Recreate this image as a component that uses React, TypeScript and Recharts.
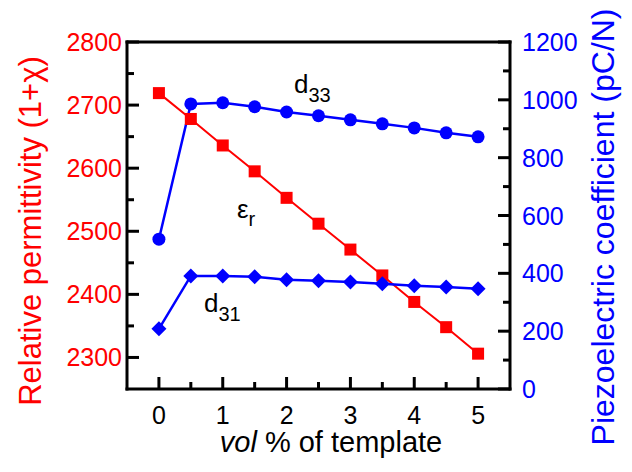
import React from 'react';
import { ComposedChart, Line, XAxis, YAxis, ReferenceLine, Customized } from 'recharts';

const volPercent = [0, 0.5, 1, 1.5, 2, 2.5, 3, 3.5, 4, 4.5, 5];
const permittivity = [2719, 2678, 2636, 2595, 2553, 2512, 2471, 2430, 2388, 2348, 2306];
const d33Values = [518, 986, 990, 976, 958, 945, 931, 917, 903, 886, 872];
const d31Values = [208, 391, 391, 388, 378, 374, 370, 364, 357, 353, 347];

const xTicks = [0, 0.5, 1, 1.5, 2, 2.5, 3, 3.5, 4, 4.5, 5];
const leftTicks = [2300, 2350, 2400, 2450, 2500, 2550, 2600, 2650, 2700, 2750, 2800];
const rightTicks = [0, 100, 200, 300, 400, 500, 600, 700, 800, 900, 1000, 1100, 1200];

const RED = '#ff0000';
const BLUE = '#0000ff';
const FONT = '"Liberation Sans", Arial, sans-serif';

const data = volPercent.map((v, i) => ({
  vol: v,
  er: permittivity[i],
  d33: d33Values[i],
  d31: d31Values[i],
}));

const Square = (props: any) => {
  const { cx, cy } = props;
  if (cx == null || cy == null) return null;
  return <rect x={cx - 6} y={cy - 6} width={12} height={12} fill={RED} />;
};

const Circle = (props: any) => {
  const { cx, cy } = props;
  if (cx == null || cy == null) return null;
  return <circle cx={cx} cy={cy} r={6.5} fill={BLUE} />;
};

const Diamond = (props: any) => {
  const { cx, cy } = props;
  if (cx == null || cy == null) return null;
  return <polygon points={`${cx},${cy - 7.5} ${cx + 7.5},${cy} ${cx},${cy + 7.5} ${cx - 7.5},${cy}`} fill={BLUE} />;
};

const LeftTick = (props: any) => {
  const { x, y, payload } = props;
  const major = payload.value % 100 === 0;
  return (
    <g>
      <line x1={x} x2={x + (major ? 12 : 7)} y1={y} y2={y} stroke="#000" strokeWidth={3} />
      {major && (
        <text x={x - 5} y={y + 9} textAnchor="end" fill={RED} fontSize={25} fontFamily={FONT}>
          {payload.value}
        </text>
      )}
    </g>
  );
};

const RightTick = (props: any) => {
  const { x, y, payload } = props;
  const major = payload.value % 200 === 0;
  return (
    <g>
      <line x1={x} x2={x - (major ? 12 : 7)} y1={y} y2={y} stroke="#000" strokeWidth={3} />
      {major && (
        <text x={x + 12} y={y + 9} textAnchor="start" fill={BLUE} fontSize={25} fontFamily={FONT}>
          {payload.value}
        </text>
      )}
    </g>
  );
};

const BottomTick = (props: any) => {
  const { x, y, payload } = props;
  const major = Number.isInteger(payload.value);
  return (
    <g>
      <line x1={x} x2={x} y1={y} y2={y - (major ? 12 : 7)} stroke="#000" strokeWidth={3} />
      {major && (
        <text x={x} y={y + 35} textAnchor="middle" fill="#000" fontSize={25} fontFamily={FONT}>
          {payload.value}
        </text>
      )}
    </g>
  );
};

const Annotations = () => (
  <g fontFamily={FONT}>
    <text x={294} y={93} fontSize={26} fill="#000">
      d<tspan fontSize={20} dy={9}>33</tspan>
    </text>
    <text x={237} y={218} fontSize={26} fill="#000">
      ε<tspan fontSize={20} dy={8}>r</tspan>
    </text>
    <text x={204} y={312} fontSize={26} fill="#000">
      d<tspan fontSize={20} dy={9}>31</tspan>
    </text>
    <text
      transform="translate(41, 231) rotate(-90)"
      textAnchor="middle"
      fontSize={31}
      fill={RED}
    >
      Relative permittivity (1+χ)
    </text>
    <text
      transform="translate(614, 227) rotate(-90)"
      textAnchor="middle"
      fontSize={32}
      fill={BLUE}
    >
      Piezoelectric coefficient (pC/N)
    </text>
    <text x={331} y={452} textAnchor="middle" fontSize={29} fill="#000">
      <tspan fontStyle="italic">vol</tspan> % of template
    </text>
  </g>
);

export default function App() {
  const axisLine = { stroke: '#000', strokeWidth: 3, strokeLinecap: 'square' as const };
  return (
    <div style={{ position: 'absolute', left: 0, top: 0, width: 632, height: 472, background: '#fff' }}>
      <ComposedChart width={632} height={472} data={data} margin={{ top: 42, right: 0, bottom: 0, left: 0 }}>
        <XAxis
          dataKey="vol"
          type="number"
          domain={[-0.5, 5.5]}
          ticks={xTicks}
          height={83}
          axisLine={axisLine}
          tickLine={false}
          tickSize={0}
          tickMargin={0}
          tick={<BottomTick />}
          interval={0}
        />
        <YAxis
          yAxisId="left"
          orientation="left"
          domain={[2250, 2800]}
          ticks={leftTicks}
          width={127}
          axisLine={axisLine}
          tickLine={false}
          tickSize={0}
          tickMargin={0}
          tick={<LeftTick />}
          interval={0}
        />
        <YAxis
          yAxisId="right"
          orientation="right"
          domain={[0, 1200]}
          ticks={rightTicks}
          width={122}
          axisLine={axisLine}
          tickLine={false}
          tickSize={0}
          tickMargin={0}
          tick={<RightTick />}
          interval={0}
        />
        <ReferenceLine yAxisId="left" y={2800} stroke="#000" strokeWidth={3} strokeLinecap="square" />
        <Line
          yAxisId="left"
          dataKey="er"
          stroke={RED}
          strokeWidth={2}
          dot={<Square />}
          activeDot={false}
          isAnimationActive={false}
        />
        <Line
          yAxisId="right"
          dataKey="d33"
          stroke={BLUE}
          strokeWidth={2.5}
          dot={<Circle />}
          activeDot={false}
          isAnimationActive={false}
        />
        <Line
          yAxisId="right"
          dataKey="d31"
          stroke={BLUE}
          strokeWidth={2.5}
          dot={<Diamond />}
          activeDot={false}
          isAnimationActive={false}
        />
        <Customized component={<Annotations />} />
      </ComposedChart>
    </div>
  );
}
